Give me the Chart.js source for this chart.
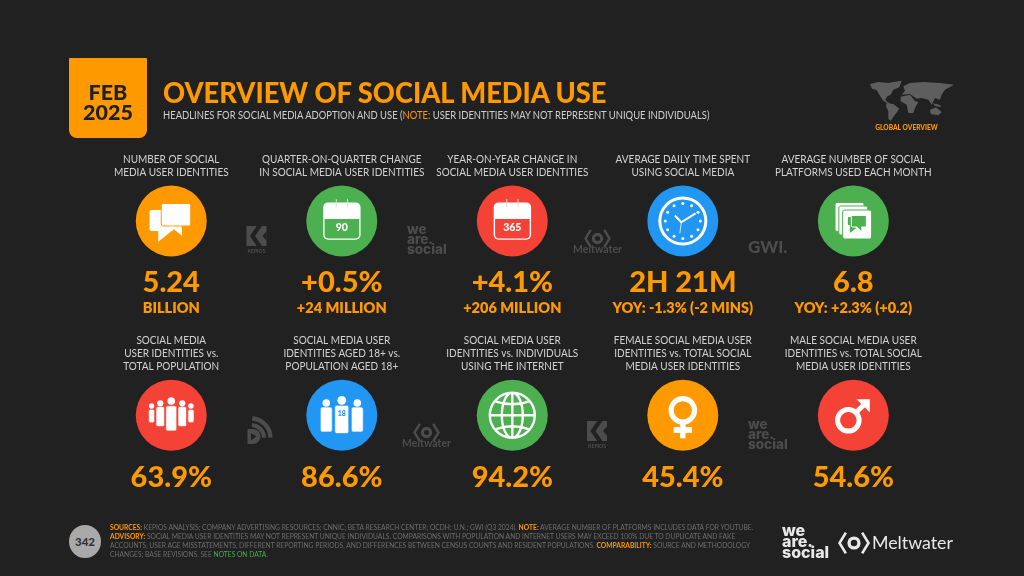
<!DOCTYPE html>
<html>
<head>
<meta charset="utf-8">
<title>Overview of social media use</title>
<script src="https://cdn.jsdelivr.net/npm/chart.js@4"></script>
<style>
  html, body { margin: 0; background: #212121; }
  #page { position: relative; width: 1024px; height: 576px; overflow: hidden; font-family: Lato, sans-serif; }
  canvas { position: absolute; left: 0; top: 0; }
  .abs { position: absolute; white-space: nowrap; }
  .or { color: #ff9900; font-weight: 700; }
  #tab { left: 69px; top: 58px; width: 78px; height: 80px; background: #ff9900; border-radius: 1px 1px 8px 8px; }
  .tabtxt { left: 69px; width: 78px; text-align: center; color: #212121; font-weight: 900; font-size: 21.5px; line-height: 22px; }
  #title { left: 163px; top: 74px; font-size: 29px; line-height: 36px; font-weight: 900; color: #ff9900; transform: scaleX(0.94); transform-origin: left; }
  #subtitle { left: 163px; top: 108px; font-size: 10.5px; line-height: 14px; color: #cfcfcf; transform: scaleX(0.898); transform-origin: left; }
  #subtitle .note { color: #ff9900; }
  .foot { left: 110px; font-size: 7.1px; line-height: 9px; color: #6e6e6e; transform: scaleX(0.944); transform-origin: left; }
  .foot .gr { color: #4caf50; }
  #badge { left: 69px; top: 525px; width: 32px; height: 33px; line-height: 33px; border-radius: 50%; background: #a9a9a9; color: #333; text-align: center; font-size: 11.5px; font-weight: 900; }
</style>
</head>
<body>
<div id="page">
  <canvas id="overviewChart" width="1024" height="576"></canvas>
  <div class="abs" id="tab"></div>
  <div class="abs tabtxt" style="top:81px">FEB</div>
  <div class="abs tabtxt" style="top:101px">2025</div>
  <div class="abs" id="title">OVERVIEW OF SOCIAL MEDIA USE</div>
  <div class="abs" id="subtitle">HEADLINES FOR SOCIAL MEDIA ADOPTION AND USE (<span class="note">NOTE:</span> USER IDENTITIES MAY NOT REPRESENT UNIQUE INDIVIDUALS)</div>
  <div class="abs" id="badge">342</div>
  <div class="abs foot" style="top:523px"><span class="or">SOURCES:</span> KEPIOS ANALYSIS; COMPANY ADVERTISING RESOURCES; CNNIC; BETA RESEARCH CENTER; OCDH; U.N.; GWI (Q3 2024). <span class="or">NOTE:</span> AVERAGE NUMBER OF PLATFORMS INCLUDES DATA FOR YOUTUBE.</div>
  <div class="abs foot" style="top:532px"><span class="or">ADVISORY:</span> SOCIAL MEDIA USER IDENTITIES MAY NOT REPRESENT UNIQUE INDIVIDUALS. COMPARISONS WITH POPULATION AND INTERNET USERS MAY EXCEED 100% DUE TO DUPLICATE AND FAKE</div>
  <div class="abs foot" style="top:541px">ACCOUNTS, USER AGE MISSTATEMENTS, DIFFERENT REPORTING PERIODS, AND DIFFERENCES BETWEEN CENSUS COUNTS AND RESIDENT POPULATIONS. <span class="or">COMPARABILITY:</span> SOURCE AND METHODOLOGY</div>
  <div class="abs foot" style="top:550px">CHANGES; BASE REVISIONS. SEE <span class="gr">NOTES ON DATA</span>.</div>
</div>
<script>
const columnLabels = ['col1', 'col2', 'col3', 'col4', 'col5'];
const rowLabels = ['row1', 'row2'];

const cardTitles = [
  ['NUMBER OF SOCIAL', 'MEDIA USER IDENTITIES'],
  ['QUARTER-ON-QUARTER CHANGE', 'IN SOCIAL MEDIA USER IDENTITIES'],
  ['YEAR-ON-YEAR CHANGE IN', 'SOCIAL MEDIA USER IDENTITIES'],
  ['AVERAGE DAILY TIME SPENT', 'USING SOCIAL MEDIA'],
  ['AVERAGE NUMBER OF SOCIAL', 'PLATFORMS USED EACH MONTH'],
  ['SOCIAL MEDIA', 'USER IDENTITIES vs.', 'TOTAL POPULATION'],
  ['SOCIAL MEDIA USER', 'IDENTITIES AGED 18+ vs.', 'POPULATION AGED 18+'],
  ['SOCIAL MEDIA USER', 'IDENTITIES vs. INDIVIDUALS', 'USING THE INTERNET'],
  ['FEMALE SOCIAL MEDIA USER', 'IDENTITIES vs. TOTAL SOCIAL', 'MEDIA USER IDENTITIES'],
  ['MALE SOCIAL MEDIA USER', 'IDENTITIES vs. TOTAL SOCIAL', 'MEDIA USER IDENTITIES']
];
const cardValues = ['5.24', '+0.5%', '+4.1%', '2H 21M', '6.8', '63.9%', '86.6%', '94.2%', '45.4%', '54.6%'];
const cardNotes = ['BILLION', '+24 MILLION', '+206 MILLION', 'YOY: -1.3% (-2 MINS)', 'YOY: +2.3% (+0.2)', '', '', '', '', ''];
const cardIcons = ['chat', 'cal90', 'cal365', 'clock', 'platforms', 'crowd', 'adults', 'globe', 'female', 'male'];

const ORANGE = '#ff9900', GREEN = '#4caf50', RED = '#f44336', BLUE = '#2196f3';
const cardColours = [ORANGE, GREEN, RED, BLUE, GREEN, RED, BLUE, GREEN, ORANGE, RED];

const WHITE = '#ffffff';
const BG = '#212121';
const MARK = '#4c4c4c'; // source watermarks

function poly(ctx, pts) {
  ctx.beginPath();
  pts.forEach((p, i) => i ? ctx.lineTo(p[0], p[1]) : ctx.moveTo(p[0], p[1]));
  ctx.closePath();
  ctx.fill();
}

function person(ctx, x, headY, headR, bodyW, top, bottom, edge) {
  ctx.fillStyle = WHITE;
  ctx.strokeStyle = edge;
  ctx.lineWidth = 0.7;
  ctx.beginPath();
  ctx.roundRect(x - bodyW / 2, top, bodyW, bottom - top, 2);
  ctx.fill();
  ctx.stroke();
  ctx.beginPath();
  ctx.arc(x, headY, headR, 0, Math.PI * 2);
  ctx.fill();
}

function calendar(ctx, label, colour) {
  ctx.fillStyle = WHITE;
  ctx.beginPath();
  ctx.roundRect(-18.6, -18.6, 37.4, 37.4, 5);
  ctx.fill();
  ctx.fillStyle = colour;
  ctx.beginPath();
  ctx.roundRect(-17.2, -2, 34.6, 19.4, [0, 0, 4, 4]);
  ctx.fill();
  ctx.strokeStyle = '#cfe5cf';
  ctx.lineWidth = 1;
  [-5.5, 5.7].forEach(x => {
    ctx.beginPath();
    ctx.moveTo(x, -22);
    ctx.lineTo(x, -14);
    ctx.stroke();
  });
  ctx.fillStyle = WHITE;
  ctx.font = '900 10.5px Lato';
  ctx.textAlign = 'center';
  ctx.textBaseline = 'middle';
  ctx.fillText(label, 0, 7);
}

const iconPainters = {
  chat(ctx, colour) {
    ctx.fillStyle = WHITE;
    ctx.beginPath();
    ctx.roundRect(-21.7, -11, 24, 21, 2);
    ctx.fill();
    poly(ctx, [[-13, 9], [-13, 20.7], [1.7, 9]]);
    ctx.strokeStyle = colour;
    ctx.lineWidth = 1;
    ctx.beginPath();
    ctx.roundRect(-10, -17.5, 29.5, 22.5, 2);
    ctx.fill();
    ctx.stroke();
    ctx.beginPath();
    ctx.moveTo(-1, 5.5);
    ctx.lineTo(10.7, 14.7);
    ctx.lineTo(10.7, 5.5);
    ctx.closePath();
    ctx.fill();
  },
  cal90(ctx, colour) { calendar(ctx, '90', colour); },
  cal365(ctx, colour) { calendar(ctx, '365', colour); },
  clock(ctx) {
    ctx.strokeStyle = WHITE;
    ctx.fillStyle = WHITE;
    ctx.lineWidth = 3;
    ctx.beginPath();
    ctx.arc(0, 0, 23, 0, Math.PI * 2);
    ctx.stroke();
    for (let h = 0; h < 12; h++) {
      const a = h * Math.PI / 6;
      ctx.beginPath();
      ctx.arc(Math.cos(a) * 17.5, Math.sin(a) * 17.5, 1.5, 0, Math.PI * 2);
      ctx.fill();
    }
    ctx.lineWidth = 2;
    ctx.beginPath();
    ctx.moveTo(-8, -5.5);
    ctx.lineTo(-1.5, 1.3);
    ctx.lineTo(12.7, -7.6);
    ctx.stroke();
    ctx.lineWidth = 0.8;
    ctx.beginPath();
    ctx.moveTo(-1.5, 1.3);
    ctx.lineTo(-3, 12.3);
    ctx.stroke();
  },
  platforms(ctx, colour) {
    ctx.fillStyle = WHITE;
    ctx.strokeStyle = colour;
    ctx.lineWidth = 1;
    [[-18.3, -18.6], [-14.5, -15], [-10.7, -11]].forEach(o => {
      ctx.beginPath();
      ctx.roundRect(o[0], o[1], 29, 29, 2);
      ctx.fill();
      ctx.stroke();
    });
    ctx.fillStyle = colour;
    ctx.beginPath();
    ctx.roundRect(-5.5, -4, 6, 8, 1);
    ctx.fill();
    poly(ctx, [[-3.5, 3], [-3.5, 12], [3, 7]]);
    ctx.strokeStyle = WHITE;
    ctx.beginPath();
    ctx.roundRect(-2, -5.5, 15, 11.5, 1);
    ctx.fill();
    ctx.stroke();
    ctx.fillStyle = colour;
    poly(ctx, [[3, 5], [8, 10], [8, 5]]);
  },
  crowd(ctx, colour) {
    person(ctx, -19.7, -9.3, 2.7, 6.2, -6, 7.5, colour);
    person(ctx, 19.7, -9.3, 2.7, 6.2, -6, 7.5, colour);
    person(ctx, -11, -12, 3.1, 8.6, -8.7, 11.3, colour);
    person(ctx, 11, -12, 3.1, 8.6, -8.7, 11.3, colour);
    person(ctx, 0, -14.3, 3.8, 11, -9.5, 15.7, colour);
  },
  adults(ctx, colour) {
    person(ctx, -15.5, -12.3, 3.8, 12, -8.3, 16.7, colour);
    person(ctx, 15.5, -12.3, 3.8, 12, -8.3, 16.7, colour);
    person(ctx, 0, -15, 4.4, 14, -10, 18.3, colour);
    ctx.fillStyle = colour;
    ctx.font = '900 7px Lato';
    ctx.textAlign = 'center';
    ctx.textBaseline = 'middle';
    ctx.fillText('18', 0, -1.5);
  },
  globe(ctx) {
    ctx.strokeStyle = WHITE;
    ctx.lineWidth = 2.4;
    ctx.beginPath();
    ctx.arc(0, 0, 22.5, 0, Math.PI * 2);
    ctx.moveTo(0, -22.5);
    ctx.lineTo(0, 22.5);
    ctx.moveTo(-22.5, 0);
    ctx.lineTo(22.5, 0);
    ctx.moveTo(0, -22.5);
    ctx.ellipse(0, 0, 10.5, 22.5, 0, -Math.PI / 2, Math.PI * 1.5);
    ctx.moveTo(-17, -14);
    ctx.quadraticCurveTo(0, -8, 17, -14);
    ctx.moveTo(-17, 14);
    ctx.quadraticCurveTo(0, 8, 17, 14);
    ctx.stroke();
  },
  female(ctx) {
    ctx.strokeStyle = WHITE;
    ctx.fillStyle = WHITE;
    ctx.lineWidth = 5.2;
    ctx.beginPath();
    ctx.arc(0, -5, 11.7, 0, Math.PI * 2);
    ctx.stroke();
    ctx.fillRect(-2.7, 8, 5.4, 15);
    ctx.fillRect(-9.2, 11.8, 18.4, 5.8);
  },
  male(ctx) {
    ctx.strokeStyle = WHITE;
    ctx.fillStyle = WHITE;
    ctx.lineWidth = 5;
    ctx.beginPath();
    ctx.arc(-5, 5, 10.8, 0, Math.PI * 2);
    ctx.moveTo(3, -3);
    ctx.lineTo(13, -13);
    ctx.stroke();
    poly(ctx, [[16.5, -16], [3.2, -16], [16.5, -2.7]]);
  }
};

// logos and watermarks
function kepios(ctx, x, y) {
  ctx.fillStyle = MARK;
  ctx.fillRect(x, y, 20, 20);
  ctx.strokeStyle = BG;
  ctx.lineWidth = 4.2;
  ctx.beginPath();
  ctx.moveTo(x + 13.5, y - 1);
  ctx.lineTo(x + 6, y + 10);
  ctx.lineTo(x + 13.5, y + 21);
  ctx.stroke();
  ctx.fillStyle = BG;
  poly(ctx, [[x + 16, y + 10], [x + 20, y + 5.5], [x + 20, y + 14.5]]);
  ctx.fillStyle = MARK;
  ctx.font = '900 5px Lato';
  ctx.textAlign = 'center';
  ctx.textBaseline = 'middle';
  ctx.fillText('KEPIOS', x + 10, y + 25);
}

function weAreSocial(ctx, x, y, size, lead, colour) {
  ctx.fillStyle = colour;
  ctx.font = '800 ' + size + 'px Inter';
  ctx.textAlign = 'left';
  ctx.textBaseline = 'middle';
  ctx.fillText('we', x, y);
  ctx.fillText('are.', x, y + lead);
  ctx.fillText('social', x, y + lead * 2);
}

function eye(ctx, cx, cy, w, colour, line) {
  const h = w * 0.36;
  ctx.strokeStyle = colour;
  ctx.lineWidth = line;
  ctx.beginPath();
  ctx.moveTo(cx - w * 0.28, cy - h);
  ctx.lineTo(cx - w / 2, cy);
  ctx.lineTo(cx - w * 0.28, cy + h);
  ctx.moveTo(cx + w * 0.28, cy - h);
  ctx.lineTo(cx + w / 2, cy);
  ctx.lineTo(cx + w * 0.28, cy + h);
  ctx.stroke();
  ctx.lineWidth = line * 1.3;
  ctx.beginPath();
  ctx.arc(cx, cy, w * 0.17, 0, Math.PI * 2);
  ctx.stroke();
}

function meltwater(ctx, x, y) {
  eye(ctx, x + 23.5, y + 5.5, 24, MARK, 2.4);
  ctx.fillStyle = MARK;
  ctx.font = '700 10.5px Lato';
  ctx.textAlign = 'center';
  ctx.textBaseline = 'middle';
  ctx.fillText('Meltwater', x + 23.5, y + 16.5);
}

function reportalMark(ctx) {
  ctx.strokeStyle = MARK;
  ctx.lineWidth = 4.4;
  ctx.beginPath();
  ctx.arc(251, 438, 19.5, -Math.PI * 0.48, -0.02);
  ctx.stroke();
  ctx.lineWidth = 4;
  ctx.beginPath();
  ctx.arc(251, 438, 13, -Math.PI * 0.48, -0.02);
  ctx.stroke();
  ctx.fillStyle = MARK;
  ctx.beginPath();
  ctx.moveTo(247.5, 429);
  ctx.lineTo(253, 429);
  ctx.arc(253, 436.5, 7.5, -Math.PI / 2, Math.PI / 2);
  ctx.lineTo(247.5, 444);
  ctx.closePath();
  ctx.fill();
  ctx.fillStyle = BG;
  poly(ctx, [[251, 433], [251, 440], [256.5, 436.5]]);
}

const continents = [
  [[30, 18], [55, 12], [85, 15], [100, 12], [125, 8], [118, 28], [100, 35], [92, 50], [82, 55], [76, 65], [82, 72], [92, 78], [84, 78], [68, 66], [58, 50], [50, 36], [36, 32]],
  [[80, 76], [100, 78], [118, 92], [105, 110], [92, 128], [85, 122], [85, 100], [78, 85]],
  [[122, 56], [150, 50], [165, 70], [175, 72], [165, 90], [160, 105], [145, 105], [140, 80], [122, 70]],
  [[130, 25], [150, 15], [190, 12], [240, 15], [282, 20], [255, 35], [245, 50], [240, 65], [225, 60], [215, 80], [205, 65], [185, 60], [170, 62], [150, 48], [125, 50], [135, 38]],
  [[210, 95], [228, 88], [245, 102], [235, 112], [212, 108]],
  [[218, 76], [238, 80], [244, 88], [226, 84]]
];

const backdrop = {
  id: 'backdrop',
  beforeDatasetsDraw(chart) {
    const ctx = chart.ctx;
    ctx.save();
    kepios(ctx, 246.5, 226);
    kepios(ctx, 587, 421);
    weAreSocial(ctx, 407, 230, 13.5, 10, MARK);
    weAreSocial(ctx, 748, 425, 13.5, 10, MARK);
    meltwater(ctx, 574, 233);
    meltwater(ctx, 403, 427);
    reportalMark(ctx);
    ctx.fillStyle = MARK;
    ctx.font = '900 17px Lato';
    ctx.textAlign = 'left';
    ctx.textBaseline = 'middle';
    ctx.fillText('GWI.', 748, 248);

    ctx.fillStyle = '#5e5e5e';
    continents.forEach(c => poly(ctx, c.map(p => [860 + p[0] / 3, 78 + p[1] / 3])));
    ctx.fillStyle = ORANGE;
    ctx.font = '900 6.6px Lato';
    ctx.textAlign = 'center';
    ctx.fillText('GLOBAL OVERVIEW', 906.5, 128);

    weAreSocial(ctx, 782, 531, 16, 11, '#e8e8e8');
    eye(ctx, 854, 543, 29, '#e8e8e8', 2.6);
    ctx.fillStyle = '#e8e8e8';
    ctx.font = '400 17.8px Lato';
    ctx.textAlign = 'left';
    ctx.fillText('Meltwater', 872, 543);
    ctx.restore();
  }
};

const cardText = {
  id: 'cardText',
  afterDatasetsDraw(chart) {
    const ctx = chart.ctx;
    chart.getDatasetMeta(0).data.forEach((pt, i) => {
      ctx.save();
      ctx.translate(pt.x, pt.y);
      iconPainters[cardIcons[i]](ctx, cardColours[i]);
      ctx.restore();

      ctx.save();
      ctx.textAlign = 'center';
      ctx.textBaseline = 'middle';
      ctx.fillStyle = ORANGE;
      ctx.font = '900 29px Lato';
      ctx.fillText(cardValues[i], pt.x, pt.y + 62);
      if (cardNotes[i]) {
        ctx.font = '800 14.5px Lato';
        ctx.fillText(cardNotes[i], pt.x, pt.y + 87);
      }
      ctx.translate(pt.x, 0);
      ctx.scale(0.91, 1); // Lato runs wider than the poster font
      ctx.fillStyle = '#d2d2d2';
      ctx.font = '400 11px Lato';
      const lines = cardTitles[i];
      lines.forEach((line, n) => {
        ctx.fillText(line, 0, pt.y - 49 - (lines.length - 1 - n) * 12.8);
      });
      ctx.restore();
    });
  }
};

new Chart(document.getElementById('overviewChart'), {
  type: 'scatter',
  data: {
    datasets: [{
      data: cardValues.map((v, i) => ({ x: columnLabels[i % 5], y: rowLabels[Math.floor(i / 5)] })),
      backgroundColor: cardColours,
      pointRadius: 35.5,
      pointHoverRadius: 35.5,
      borderWidth: 0
    }]
  },
  plugins: [backdrop, cardText],
  options: {
    responsive: false,
    animation: false,
    events: [],
    layout: { padding: { left: 86, right: 85.4, top: 123.85, bottom: 63.55 } },
    scales: {
      x: { type: 'category', labels: columnLabels, offset: true, display: false },
      y: { type: 'category', labels: rowLabels, offset: true, display: false }
    },
    plugins: { legend: { display: false }, tooltip: { enabled: false } }
  }
});
</script>
</body>
</html>
